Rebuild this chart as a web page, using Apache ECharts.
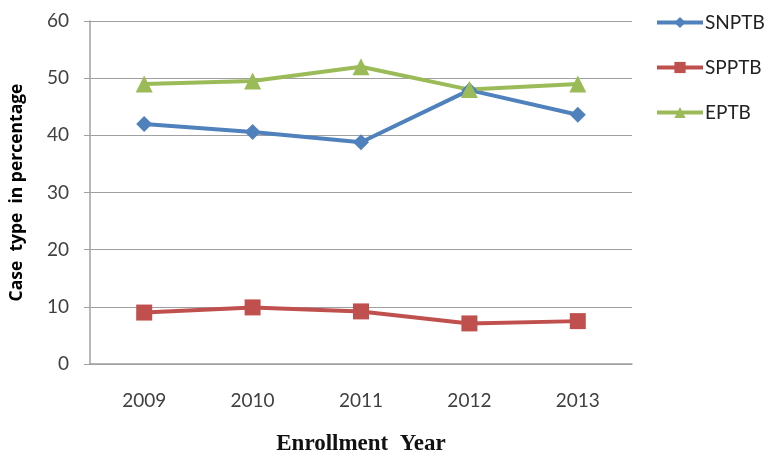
<!DOCTYPE html>
<html><head><meta charset="utf-8">
<script src="https://cdn.jsdelivr.net/npm/echarts@6/dist/echarts.min.js"></script>
<style>html,body{margin:0;padding:0;background:#fff}#c{width:767px;height:453px}</style>
</head><body><div id="c"></div>
<script>
const categories = ['2009','2010','2011','2012','2013'];
const snptb = [42.0, 40.6, 38.8, 47.9, 43.6];
const spptb = [9.0, 9.9, 9.2, 7.1, 7.5];
const eptb = [49.0, 49.5, 52.0, 48.0, 49.0];
const yTicks = [0, 10, 20, 30, 40, 50, 60];

const chart = echarts.init(document.getElementById('c'));
const lab = {fontFamily:'Lato, "Open Sans", sans-serif', fontSize:19, color:'#404040'};
chart.setOption({
  animation:false,
  grid:{left:90, right:135, top:21, bottom:89, containLabel:false, outerBoundsMode:'none'},
  legend:{
    orient:'vertical', left:655, top:13, padding:0, itemWidth:46, itemHeight:14, itemGap:26,
    lineStyle:{width:4},
    textStyle:{fontFamily:'Lato, "Open Sans", sans-serif', fontSize:19, lineHeight:14, color:'#222', padding:[0,0,0,-3]},
    data:['SNPTB','SPPTB','EPTB']
  },
  xAxis:{
    type:'category', data:categories, boundaryGap:true,
    axisLine:{lineStyle:{color:'#a0a0a0', width:1.5}},
    axisTick:{show:false},
    axisLabel:Object.assign({margin:27}, lab),
    name:'Enrollment  Year', nameLocation:'middle', nameGap:69,
    nameTextStyle:{fontFamily:'"Liberation Serif", serif', fontWeight:'bold', fontSize:23, color:'#111'}
  },
  yAxis:{
    type:'value', min:yTicks[0], max:yTicks[yTicks.length-1], interval:10,
    axisLine:{show:true, lineStyle:{color:'#a0a0a0', width:1.5}},
    axisTick:{show:true, length:6, lineStyle:{color:'#a0a0a0'}},
    splitLine:{lineStyle:{color:'#a0a0a0', width:1.2}},
    axisLabel:Object.assign({margin:21}, lab),
    name:'Case  type  in percentage', nameLocation:'middle', nameGap:64,
    nameTextStyle:{fontFamily:'"Open Sans", Lato, sans-serif', fontWeight:'bold', fontSize:17.5, color:'#000'}
  },
  series:[
    {name:'SNPTB', type:'line', data:snptb, symbol:'diamond', symbolSize:16,
     lineStyle:{width:4, color:'#4f81bd'}, itemStyle:{color:'#4f81bd'}},
    {name:'SPPTB', type:'line', data:spptb, symbol:'rect', symbolSize:16,
     lineStyle:{width:4, color:'#c0504d'}, itemStyle:{color:'#c0504d'}},
    {name:'EPTB', type:'line', data:eptb, symbol:'triangle', symbolSize:17,
     lineStyle:{width:4, color:'#9bbb59'}, itemStyle:{color:'#9bbb59'}}
  ]
});
</script></body></html>
